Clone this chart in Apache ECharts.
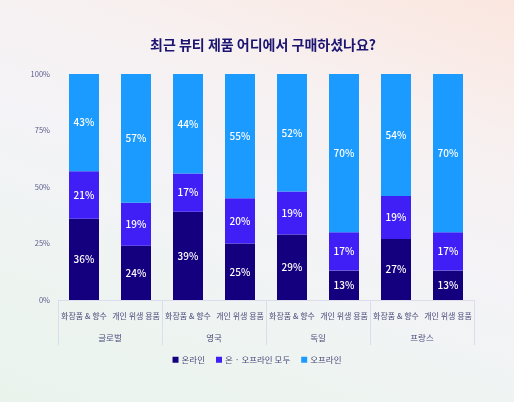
<!DOCTYPE html>
<html><head><meta charset="utf-8">
<script src="https://cdn.jsdelivr.net/npm/echarts@6/dist/echarts.min.js"></script>
<style>
html,body{margin:0;padding:0;width:514px;height:402px;overflow:hidden;}
body{background:linear-gradient(200deg,#fbe6df 0%,#f7f1f1 28%,#f4f3f7 50%,#eef4f1 75%,#e9f3ec 100%);}
#c{width:514px;height:402px;}
</style></head>
<body><div id="c"></div>
<script>
const subCategories = ['화장품 & 향수','개인 위생 용품','화장품 & 향수','개인 위생 용품','화장품 & 향수','개인 위생 용품','화장품 & 향수','개인 위생 용품'];
const countries = ['글로벌','영국','독일','프랑스'];
const online = [36,24,39,25,29,13,27,13];
const both = [21,19,17,20,19,17,19,17];
const offline = [43,57,44,55,52,70,54,70];
const yTicks = [0,25,50,75,100];
const seriesNames = ['온라인','온 · 오프라인 모두','오프라인'];
const colors = ['#14007e','#3f1ff5','#1b9bff'];

const font = 'Noto Sans CJK KR';
const chart = echarts.init(document.getElementById('c'), null, {renderer:'canvas'});
const lbl = {show:true, position:'inside', color:'#ffffff', fontSize:10, fontFamily:font, fontWeight:500, formatter:'{c}%'};
chart.setOption({
  backgroundColor:'transparent',
  textStyle:{fontFamily:font},
  title:{text:'최근 뷰티 제품 어디에서 구매하셨나요?', left:258, textAlign:'center', top:33,
    textStyle:{fontSize:14, fontWeight:'bold', color:'#1c1470', fontFamily:font}},
  legend:{bottom:33, left:'center', itemWidth:6, itemHeight:6, itemGap:11, itemStyle:{}, icon:'rect',
    textStyle:{fontSize:8.5, color:'#4a4a7a', fontFamily:font, padding:[0,0,0,-2]}, data:seriesNames},
  grid:{left:58, right:40, top:74, bottom:102},
  xAxis:[
    {type:'category', data:subCategories, position:'bottom',
     axisLine:{show:true, lineStyle:{color:'#dcdcec'}}, axisTick:{show:false},
     axisLabel:{interval:0, fontSize:8, color:'#4a4a7a', margin:12, fontFamily:font}},
    {type:'category', data:countries, position:'bottom',
     axisLine:{show:false}, axisTick:{show:true, length:45, interval:0, lineStyle:{color:'#dcdcec'}},
     axisLabel:{interval:0, fontSize:8.5, color:'#4a4a7a', margin:34, fontFamily:font}}
  ],
  yAxis:{type:'value', min:yTicks[0], max:yTicks[yTicks.length-1], interval:25,
    axisLine:{show:false}, axisTick:{show:false}, splitLine:{show:false},
    axisLabel:{formatter:'{value}%', fontSize:7.5, color:'#5a5a8a', margin:8, fontFamily:font}},
  series:[
    {name:seriesNames[0], type:'bar', stack:'a', data:online, barWidth:30, itemStyle:{color:colors[0]}, label:lbl},
    {name:seriesNames[1], type:'bar', stack:'a', data:both, barWidth:30, itemStyle:{color:colors[1]}, label:lbl},
    {name:seriesNames[2], type:'bar', stack:'a', data:offline, barWidth:30, itemStyle:{color:colors[2]}, label:lbl}
  ]
});
</script></body></html>
